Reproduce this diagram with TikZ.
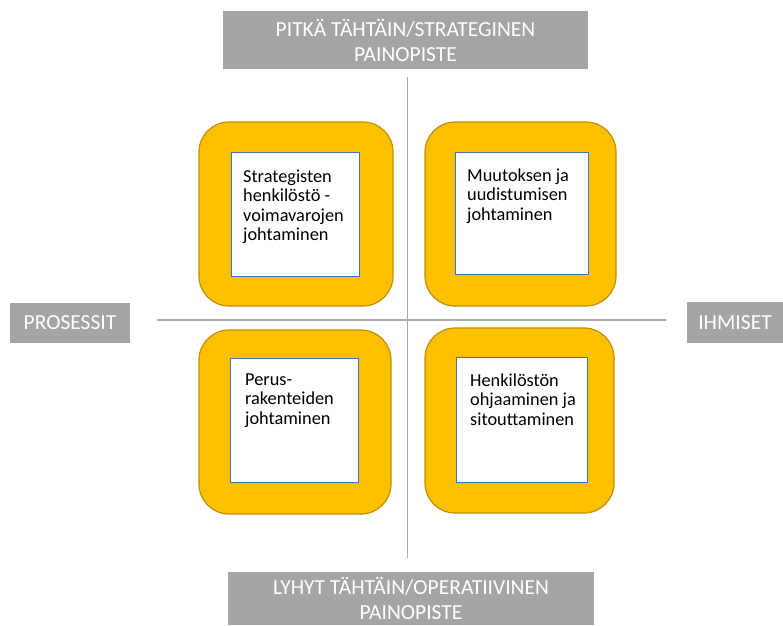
\documentclass[tikz,border=0pt]{standalone}
\usepackage{fontspec}
\setmainfont{Carlito}
\definecolor{labelgray}{HTML}{A5A5A5}
\definecolor{axisgray}{HTML}{ABABAB}
\definecolor{gold}{HTML}{FFC000}
\definecolor{golddark}{HTML}{BF9000}
\definecolor{boxblue}{HTML}{4472C4}
\tikzset{
  axislabel/.style={fill=labelgray, text=white, inner sep=0pt, align=center,
    font=\fontsize{21.5}{25}\selectfont},
  frame/.style={draw=golddark, fill=gold, line width=1.2pt, rounded corners=30pt, inner sep=0pt},
  inbox/.style={draw=boxblue, fill=white, line width=1pt, inner sep=0pt},
  intext/.style={anchor=north west, align=left, inner sep=0pt,
    font=\fontsize{18.3}{19.5}\selectfont},
  axis/.style={draw=axisgray, line width=1.6pt}
}
\begin{document}
\begin{tikzpicture}[x=1pt,y=-1pt]
\useasboundingbox (0,0) rectangle (783,625);
%% labels
\node[axislabel, minimum width=365pt, minimum height=58pt] (top) at (405.5,40) {PITKÄ TÄHTÄIN/STRATEGINEN\\PAINOPISTE};
\node[axislabel, minimum width=366pt, minimum height=53pt] (bottom) at (411,598.5) {LYHYT TÄHTÄIN/OPERATIIVINEN\\PAINOPISTE};
\node[axislabel, minimum width=120pt, minimum height=40pt] (left) at (70,323) {PROSESSIT};
\node[axislabel, minimum width=96pt, minimum height=41pt] (right) at (735,322.5) {IHMISET};
%% axes
\coordinate (vtop) at (407.5,77);
\coordinate (vbot) at (407.5,558);
\coordinate (hleft) at (157,320);
\coordinate (hright) at (666,320);
\draw[axis] (vtop) -- (vbot);
\draw[axis] (hleft) -- (hright);
%% quadrants
\node[frame, minimum width=194pt, minimum height=184pt] (TL) at (296,214) {};
\node[frame, minimum width=191pt, minimum height=184pt] (TR) at (520.5,214) {};
\node[frame, minimum width=192pt, minimum height=184pt] (BL) at (295,422) {};
\node[frame, minimum width=189pt, minimum height=185pt] (BR) at (519.5,420.5) {};
\node[inbox, minimum width=128pt, minimum height=124pt] (TLin) at (295,214) {};
\node[inbox, minimum width=133pt, minimum height=122pt] (TRin) at (521.5,213) {};
\node[inbox, minimum width=128pt, minimum height=124pt] (BLin) at (294,420) {};
\node[inbox, minimum width=131pt, minimum height=125pt] (BRin) at (521.5,419.5) {};
%% texts
\node[intext] (TLtext) at (243,168.5) {\strut Strategisten\\henkilöstö -\\voimavarojen\\johtaminen};
\node[intext] (TRtext) at (467,167.5) {\strut Muutoksen ja\\uudistumisen\\johtaminen};
\node[intext] (BLtext) at (245,371.5) {\strut Perus-\\rakenteiden\\johtaminen};
\node[intext] (BRtext) at (470,372.5) {\strut Henkilöstön\\ohjaaminen ja\\sitouttaminen};
\end{tikzpicture}
\end{document}
